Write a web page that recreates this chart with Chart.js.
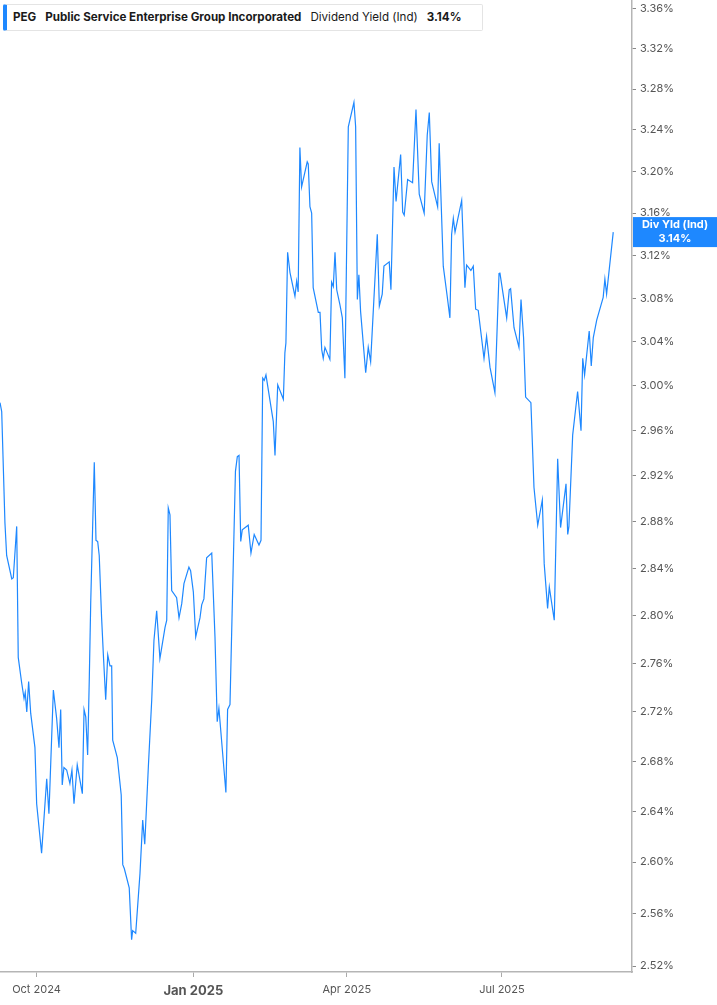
<!DOCTYPE html>
<html>
<head>
<meta charset="utf-8">
<title>PEG Dividend Yield</title>
<script src="https://cdn.jsdelivr.net/npm/chart.js@4.4.1/dist/chart.umd.min.js"></script>
<style>
  body { margin: 0; background: #fff; font-family: Inter, "Noto Sans", sans-serif; }
  #wrap { position: relative; width: 717px; height: 1005px; }
  #legend {
    position: absolute; left: 3px; top: 4px; height: 27px; width: 480px;
    border: 1px solid #e4e4e4; border-left: 4px solid #1e88ff; border-radius: 2px;
    background: #fff; box-sizing: border-box;
    font-size: 11.6px; line-height: 25px; color: #1a1a1a; white-space: nowrap;
    padding-left: 6px;
  }
  #legend b { font-weight: 700; }
  #legend span { margin-right: 9px; }
</style>
</head>
<body>
<div id="wrap">
  <canvas id="yieldChart"></canvas>
  <div id="legend">
    <span><b>PEG</b></span><span><b>Public Service Enterprise Group Incorporated</b></span><span>Dividend Yield (Ind)</span><span><b id="lastVal"></b></span>
  </div>
</div>
<script>
// days counted from 1 Oct 2024
const days = [
  -21.4,-20.4,-18.5,-17.5,-14.5,-13.6,-11.6,-10.7,-8.7,-7.3,
  -6.6,-5.7,-4.6,-3.4,-0.9,0.1,3.0,6.0,7.3,9.9,
  11.8,13.2,14.2,15.1,16.1,17.7,19.6,20.8,22.0,23.9,
  26.9,27.9,28.9,30.0,31.0,31.8,33.9,34.9,35.9,36.8,
  38.2,39.2,40.6,41.8,43.1,44.1,44.7,47.4,49.7,50.6,
  51.5,54.4,55.8,56.4,58.2,60.7,62.3,63.5,65.6,67.6,
  68.9,70.5,72.4,75.4,76.4,77.3,78.3,79.3,82.2,83.6,
  85.2,86.5,89.4,90.4,92.0,93.4,95.9,96.9,98.2,99.8,
  102.8,104.7,106.0,107.0,111.1,112.1,113.5,115.2,116.7,117.8,
  118.8,119.8,120.7,124.2,125.8,127.7,130.5,131.7,132.7,133.6,
  134.6,138.9,139.9,141.5,144.8,145.7,146.3,147.3,148.7,151.6,
  152.6,153.5,154.5,155.5,158.8,159.4,160.4,161.4,162.3,165.3,
  166.3,167.3,168.2,169.2,172.1,173.1,174.1,175.1,176.1,178.0,
  179.4,180.9,182.9,186.2,187.2,188.2,189.1,190.1,193.1,194.6,
  196.0,199.9,201.1,202.8,203.8,206.9,207.9,209.7,210.9,213.6,
  214.8,215.7,217.7,220.6,222.6,224.5,227.4,229.2,230.4,231.8,
  235.3,236.2,238.6,240.9,242.5,243.5,244.5,245.5,249.4,251.3,
  252.3,254.8,256.2,257.6,259.1,262.5,264.0,266.0,268.9,271.3,
  271.8,275.8,277.3,278.1,280.1,283.0,284.2,285.7,286.9,290.0,
  291.8,294.0,296.7,297.8,299.8,300.8,303.7,305.7,307.4,310.6,
  311.6,312.3,314.5,317.4,319.4,320.4,321.5,324.2,325.4,326.6,
  328.6,332.4,333.4,334.4,338.3
];

// dividend yield (%)
const yields = [
  2.985,2.977,2.879,2.851,2.831,2.832,2.876,2.765,2.744,2.731,
  2.736,2.720,2.745,2.719,2.691,2.646,2.607,2.666,2.638,2.738,
  2.715,2.691,2.722,2.661,2.675,2.673,2.662,2.673,2.646,2.677,
  2.654,2.722,2.716,2.685,2.749,2.810,2.932,2.864,2.863,2.851,
  2.798,2.768,2.730,2.767,2.758,2.758,2.697,2.683,2.653,2.598,
  2.595,2.580,2.540,2.547,2.545,2.591,2.633,2.614,2.675,2.730,
  2.779,2.804,2.764,2.790,2.796,2.892,2.886,2.821,2.815,2.798,
  2.810,2.827,2.841,2.838,2.820,2.782,2.798,2.809,2.814,2.849,
  2.853,2.782,2.712,2.723,2.655,2.722,2.726,2.830,2.924,2.937,
  2.938,2.863,2.873,2.877,2.853,2.869,2.860,2.864,3.007,3.005,
  3.010,2.968,2.938,3.001,2.988,3.030,3.039,3.123,3.104,3.082,
  3.096,3.086,3.223,3.185,3.209,3.207,3.166,3.160,3.090,3.067,
  3.067,3.033,3.025,3.035,3.024,3.095,3.091,3.123,3.088,3.074,
  3.062,3.007,3.243,3.267,3.243,3.079,3.102,3.068,3.012,3.035,
  3.022,3.140,3.073,3.084,3.110,3.114,3.088,3.204,3.171,3.216,
  3.161,3.158,3.192,3.189,3.260,3.178,3.160,3.235,3.257,3.190,
  3.166,3.227,3.110,3.082,3.062,3.140,3.155,3.142,3.172,3.090,
  3.111,3.106,3.110,3.070,3.069,3.025,3.045,3.017,2.994,3.103,
  3.104,3.062,3.088,3.089,3.053,3.035,3.079,3.044,2.990,2.985,
  2.910,2.877,2.899,2.844,2.806,2.824,2.796,2.935,2.875,2.913,
  2.869,2.876,2.956,2.995,2.960,3.025,3.010,3.050,3.018,3.044,
  3.060,3.081,3.098,3.084,3.142
];

const xTickDays = [0, 92, 182, 273];
const xTickLabels = ['Oct 2024', 'Jan 2025', 'Apr 2025', 'Jul 2025'];
const yTicks = [2.52, 2.56, 2.60, 2.64, 2.68, 2.72, 2.76, 2.80, 2.84, 2.88, 2.92,
                2.96, 3.00, 3.04, 3.08, 3.12, 3.16, 3.20, 3.24, 3.28, 3.32, 3.36];

const LINE_COLOR = '#1e88ff';
const lastYield = yields[yields.length - 1];
document.getElementById('lastVal').textContent = lastYield.toFixed(2) + '%';

const points = days.map((d, i) => ({ x: d, y: yields[i] }));

// blue value tag on the right axis
const endLabel = {
  id: 'endLabel',
  afterDraw(chart) {
    const { ctx, chartArea } = chart;
    const y = chart.scales.y.getPixelForValue(lastYield);
    const x0 = chartArea.right + 1;
    const cx = (x0 + chart.width) / 2;
    ctx.save();
    ctx.fillStyle = LINE_COLOR;
    ctx.fillRect(x0, y - 15, chart.width - x0, 30);
    ctx.fillStyle = '#fff';
    ctx.font = 'bold 11px Inter';
    ctx.textAlign = 'center';
    ctx.textBaseline = 'middle';
    ctx.fillText('Div Yld (Ind)', cx, y - 7);
    ctx.fillText(lastYield.toFixed(2) + '%', cx, y + 7);
    ctx.restore();
  }
};

const ctx = document.getElementById('yieldChart').getContext('2d');
const yieldChart = new Chart(ctx, {
  type: 'line',
  data: {
    datasets: [{
      label: 'Div Yld (Ind)',
      data: points,
      borderColor: LINE_COLOR,
      borderWidth: 1.2,
      pointRadius: 0,
      tension: 0,
      fill: false
    }]
  },
  options: {
    responsive: true,
    maintainAspectRatio: false,
    animation: false,
    layout: { padding: 0 },
    plugins: {
      legend: { display: false },
      tooltip: { enabled: false }
    },
    scales: {
      x: {
        type: 'linear',
        min: -21.4,
        max: 349.3,
        afterBuildTicks: (scale) => { scale.ticks = xTickDays.map(v => ({ value: v })); },
        afterFit: (scale) => { scale.height = 33; scale.paddingLeft = 0; scale.paddingRight = 0; },
        grid: { drawOnChartArea: false, drawTicks: true, tickLength: 5, color: '#aaa' },
        border: { display: true, color: '#b5b5b5', width: 1.5 },
        ticks: {
          autoSkip: false,
          maxRotation: 0,
          padding: 6,
          color: '#555',
          font: (c) => (c.tick && c.tick.value === 92)
            ? { family: 'Inter', size: 13, weight: 'bold' }
            : { family: 'Inter', size: 11 },
          callback: (v) => xTickLabels[xTickDays.indexOf(v)]
        }
      },
      y: {
        type: 'logarithmic',
        position: 'right',
        min: 2.5155,
        max: 3.369,
        afterBuildTicks: (scale) => { scale.ticks = yTicks.map(v => ({ value: v })); },
        afterFit: (scale) => { scale.width = 85; scale.paddingTop = 0; scale.paddingBottom = 0; },
        grid: { drawOnChartArea: false, drawTicks: true, tickLength: 4, color: '#888' },
        border: { display: true, color: '#b5b5b5', width: 1.5 },
        ticks: {
          autoSkip: false,
          padding: 4,
          color: '#555',
          font: { family: 'Inter', size: 11 },
          callback: (v) => Number(v).toFixed(2) + '%'
        }
      }
    }
  },
  plugins: [endLabel]
});
</script>
</body>
</html>
